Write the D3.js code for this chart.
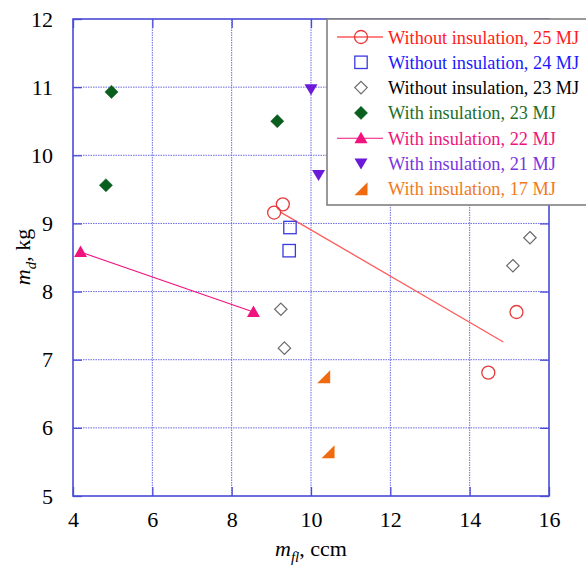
<!DOCTYPE html>
<html><head><meta charset="utf-8">
<script src="https://cdn.jsdelivr.net/npm/d3@7"></script>
<style>body{margin:0;background:#fff}svg{display:block}svg text{font-family:"Liberation Serif","Times New Roman",Times,"DejaVu Serif",serif !important}</style>
</head><body>
<script>
// ---- data ----
const xTicks = [4, 6, 8, 10, 12, 14, 16];
const yTicks = [5, 6, 7, 8, 9, 10, 11, 12];

const wo25x = [9.07, 9.29, 15.18, 14.47];
const wo25y = [9.16, 9.28, 7.70, 6.81];
const wo25FitX = [9.22, 14.85];
const wo25FitY = [9.17, 7.26];

const wo24x = [9.47, 9.45];
const wo24y = [8.94, 8.60];

const wo23x = [9.24, 9.33, 15.52, 15.09];
const wo23y = [7.74, 7.17, 8.79, 8.38];

const wi23x = [4.97, 9.15, 4.83];
const wi23y = [10.93, 10.50, 9.56];

const wi22x = [4.19, 8.55];
const wi22y = [8.58, 7.70];

const wi21x = [10.0, 10.19];
const wi21y = [10.97, 9.71];

const wi17x = [10.32, 10.43];
const wi17y = [6.75, 5.65];

const legendLabels = [
  "Without insulation, 25 MJ", "Without insulation, 24 MJ", "Without insulation, 23 MJ",
  "With insulation, 23 MJ", "With insulation, 22 MJ", "With insulation, 21 MJ", "With insulation, 17 MJ"
];

// ---- styles ----
const FONT = '"Liberation Serif","Times New Roman",Times,"DejaVu Serif",serif';
const C = {
  red: "#e8383a", redText: "#ff1a1a", redLine: "#ff5a5a",
  blue: "#3a3ae0", blueText: "#1a1aff",
  gray: "#6a6a6a", black: "#000",
  green: "#0a5e1e", greenText: "#1e6e2a",
  pink: "#f0137e", pinkText: "#f0137e",
  purple: "#6a1ad8", purpleText: "#7a34e0",
  orange: "#f06a10", orangeText: "#f07a20",
  frame: "#4a4ad8", grid: "#6a6ae4"
};

const W = 586, H = 572;
const svg = d3.select("body").append("svg").attr("width", W).attr("height", H).attr("font-family", FONT);
const x = d3.scaleLinear().domain([4, 16]).range([73, 549]);
const y = d3.scaleLinear().domain([5, 12]).range([496, 19]);

// grid
const g = svg.append("g");
g.selectAll(".gx").data(xTicks.slice(1, -1)).join("line")
  .attr("x1", d => x(d)).attr("x2", d => x(d)).attr("y1", y(5)).attr("y2", y(12))
  .attr("stroke", C.grid).attr("stroke-width", 1).attr("stroke-dasharray", "1.5,1");
g.selectAll(".gy").data(yTicks.slice(1, -1)).join("line")
  .attr("y1", d => y(d)).attr("y2", d => y(d)).attr("x1", x(4)).attr("x2", x(16))
  .attr("stroke", C.grid).attr("stroke-width", 1).attr("stroke-dasharray", "1.5,1");

// axes via d3
const tickLen = 9;
svg.append("g").attr("transform", `translate(0,${y(5)})`)
  .call(d3.axisBottom(x).tickValues(xTicks).tickSize(-tickLen).tickPadding(tickLen + 6).tickFormat(d3.format("d")))
  .call(a => { a.attr("font-family", FONT); a.select(".domain").remove(); a.selectAll("line").attr("stroke", C.frame).attr("stroke-width", 1.3);
    a.selectAll("text").attr("font-size", 22).attr("fill", "#000").style("font-family", FONT); });
svg.append("g").attr("transform", `translate(${x(4)},0)`)
  .call(d3.axisLeft(y).tickValues(yTicks).tickSize(-tickLen).tickPadding(tickLen + 11).tickFormat(d3.format("d")))
  .call(a => { a.attr("font-family", FONT); a.select(".domain").remove(); a.selectAll("line").attr("stroke", C.frame).attr("stroke-width", 1.3);
    a.selectAll("text").attr("font-size", 22).attr("fill", "#000").style("font-family", FONT); });
svg.append("g").attr("transform", `translate(${x(16)},0)`)
  .call(d3.axisRight(y).tickValues(yTicks).tickSize(-tickLen).tickFormat(""))
  .call(a => { a.select(".domain").remove(); a.selectAll("line").attr("stroke", C.frame).attr("stroke-width", 1.3); });
svg.append("g").attr("transform", `translate(0,${y(12)})`)
  .call(d3.axisTop(x).tickValues(xTicks).tickSize(-tickLen).tickFormat(""))
  .call(a => { a.select(".domain").remove(); a.selectAll("line").attr("stroke", C.frame).attr("stroke-width", 1.3); });

svg.append("rect").attr("x", x(4)).attr("y", y(12)).attr("width", x(16) - x(4)).attr("height", y(5) - y(12))
  .attr("fill", "none").attr("stroke", C.frame).attr("stroke-width", 1.6);

// marker shapes
function circle(sel, cx, cy, col) {
  sel.append("circle").attr("cx", cx).attr("cy", cy).attr("r", 6.5).attr("fill", "none").attr("stroke", col).attr("stroke-width", 1.3);
}
function square(sel, cx, cy, col) {
  sel.append("rect").attr("x", cx - 6.2).attr("y", cy - 6.2).attr("width", 12.4).attr("height", 12.4)
    .attr("fill", "none").attr("stroke", col).attr("stroke-width", 1.3);
}
function diamond(sel, cx, cy, col, fill) {
  const r = fill ? 6.6 : 6.2;
  sel.append("path").attr("d", `M${cx},${cy - r}L${cx + r},${cy}L${cx},${cy + r}L${cx - r},${cy}Z`)
    .attr("fill", fill ? col : "none").attr("stroke", col).attr("stroke-width", fill ? 0.5 : 1.2);
}
function triUp(sel, cx, cy, col) {
  sel.append("path").attr("d", `M${cx},${cy - 6.5}L${cx + 6.5},${cy + 5}L${cx - 6.5},${cy + 5}Z`).attr("fill", col);
}
function triDown(sel, cx, cy, col) {
  sel.append("path").attr("d", `M${cx - 6.5},${cy - 5}L${cx + 6.5},${cy - 5}L${cx},${cy + 6}Z`).attr("fill", col);
}
function triRight(sel, cx, cy, col) {
  sel.append("path").attr("d", `M${cx - 6.5},${cy + 6.5}L${cx + 6.5},${cy - 6.5}L${cx + 6.5},${cy + 6.5}Z`).attr("fill", col);
}

const m = svg.append("g");
const line = d3.line().x(d => x(d[0])).y(d => y(d[1]));
m.append("path").attr("d", line(d3.zip(wo25FitX, wo25FitY))).attr("fill", "none").attr("stroke", C.redLine).attr("stroke-width", 1.3);
m.append("path").attr("d", line(d3.zip(wi22x, wi22y))).attr("fill", "none").attr("stroke", C.pink).attr("stroke-width", 1.1);

wi23x.forEach((v, i) => diamond(m, x(v), y(wi23y[i]), C.green, true));
wi21x.forEach((v, i) => triDown(m, x(v), y(wi21y[i]), C.purple));
wi22x.forEach((v, i) => triUp(m, x(v), y(wi22y[i]), C.pink));
wi17x.forEach((v, i) => triRight(m, x(v), y(wi17y[i]), C.orange));
wo24x.forEach((v, i) => square(m, x(v), y(wo24y[i]), C.blue));
wo23x.forEach((v, i) => diamond(m, x(v), y(wo23y[i]), C.gray, false));
wo25x.forEach((v, i) => circle(m, x(v), y(wo25y[i]), C.red));

// legend
const lg = svg.append("g");
lg.append("rect").attr("x", 327).attr("y", 19).attr("width", 270).attr("height", 186)
  .attr("fill", "#fff").attr("stroke", "#808080").attr("stroke-width", 1.6);
const rowY = i => 37 + i * 25.3;
const sx = 361, tx = 388;
const textCols = [C.redText, C.blueText, C.black, C.greenText, C.pinkText, C.purpleText, C.orangeText];
legendLabels.forEach((t, i) => {
  lg.append("text").attr("x", tx).attr("y", rowY(i) + 6.5).attr("font-size", 18.3).attr("fill", textCols[i]).style("font-family", FONT).text(t);
});
lg.append("line").attr("x1", 337).attr("x2", 383).attr("y1", rowY(0)).attr("y2", rowY(0)).attr("stroke", C.redLine).attr("stroke-width", 1.3);
circle(lg, sx, rowY(0), C.red);
square(lg, sx, rowY(1), C.blue);
diamond(lg, sx, rowY(2), C.gray, false);
diamond(lg, sx, rowY(3), C.green, true);
lg.append("line").attr("x1", 337).attr("x2", 383).attr("y1", rowY(4)).attr("y2", rowY(4)).attr("stroke", C.pink).attr("stroke-width", 1.1);
triUp(lg, sx, rowY(4), C.pink);
triDown(lg, sx, rowY(5), C.purple);
triRight(lg, sx, rowY(6), C.orange);

// axis titles
const xt = svg.append("text").attr("x", 311).attr("y", 556).attr("text-anchor", "middle").attr("font-size", 22).attr("fill", "#000").style("font-family", FONT);
xt.append("tspan").attr("font-style", "italic").text("m");
xt.append("tspan").attr("font-style", "italic").attr("font-size", 15).attr("dy", 6).text("fl");
xt.append("tspan").attr("dy", -6).text(", ccm");

const yt = svg.append("text").attr("transform", "translate(30,257) rotate(-90)").attr("text-anchor", "middle").attr("font-size", 22).attr("fill", "#000").style("font-family", FONT);
yt.append("tspan").attr("font-style", "italic").text("m");
yt.append("tspan").attr("font-style", "italic").attr("font-size", 15).attr("dy", 6).text("d");
yt.append("tspan").attr("dy", -6).text(", kg");
</script>
</body></html>
